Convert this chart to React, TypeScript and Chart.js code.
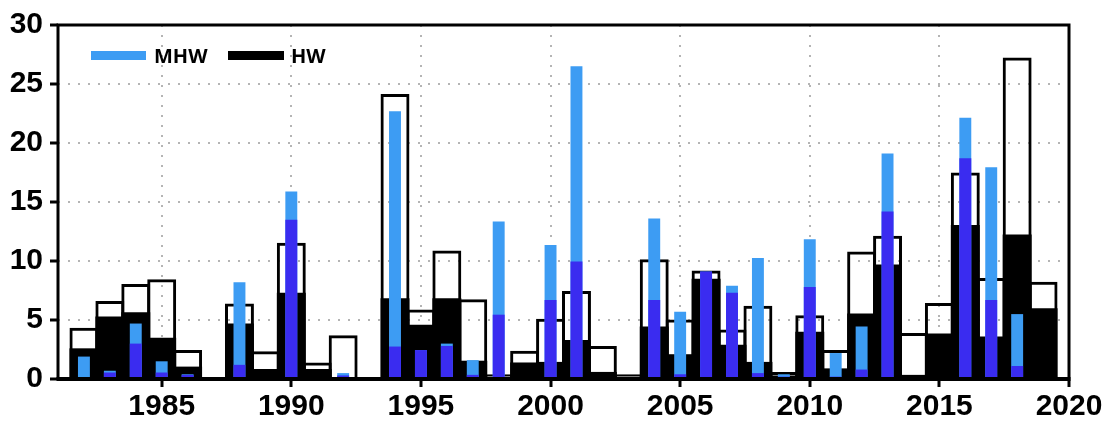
import React, { useEffect, useRef } from "react";
import { Chart, registerables } from "chart.js";

Chart.register(...registerables);

// ---------- data ----------
const years = [
  1982, 1983, 1984, 1985, 1986, 1987, 1988, 1989, 1990, 1991,
  1992, 1993, 1994, 1995, 1996, 1997, 1998, 1999, 2000, 2001,
  2002, 2003, 2004, 2005, 2006, 2007, 2008, 2009, 2010, 2011,
  2012, 2013, 2014, 2015, 2016, 2017, 2018, 2019,
];

// open (outlined) bars
const boxValues = [
  4.35, 6.6, 8.05, 8.45, 2.45, 0, 6.4, 2.35, 11.55, 1.4,
  3.7, 0, 24.15, 5.9, 10.9, 6.75, 0.4, 2.4, 5.1, 7.45,
  2.8, 0.4, 10.15, 5.05, 9.2, 4.2, 6.2, 0.6, 5.4, 2.45,
  10.8, 12.15, 3.9, 6.45, 17.5, 8.55, 27.25, 8.25,
];

// HW (black filled bars)
const hwValues = [
  2.6, 5.3, 5.65, 3.5, 1.05, 0, 4.7, 0.85, 7.3, 0.85,
  0, 0, 6.85, 4.6, 6.85, 1.55, 0.2, 1.4, 1.45, 3.3,
  0.6, 0.2, 4.45, 2.1, 8.5, 2.9, 1.45, 0.3, 4.0, 0.9,
  5.55, 9.7, 0.35, 3.85, 13.05, 3.6, 12.25, 6.0,
];

// MHW (light blue narrow bars)
const mhwValues = [
  1.9, 0.7, 4.7, 1.5, 0.4, 0, 8.2, 0, 15.9, 0,
  0.5, 0, 22.7, 2.45, 3.0, 1.6, 13.35, 0, 11.35, 26.5,
  0, 0, 13.6, 5.7, 9.1, 7.9, 10.25, 0.4, 11.85, 2.2,
  4.45, 19.1, 0, 0, 22.15, 17.95, 5.5, 0.15,
];

// overlap part of MHW (dark blue narrow bars)
const overlapValues = [
  0.1, 0.55, 3.0, 0.55, 0.35, 0, 1.2, 0, 13.5, 0,
  0.3, 0, 2.75, 2.45, 2.8, 0.35, 5.45, 0, 6.7, 9.95,
  0, 0, 6.7, 0.4, 9.1, 7.3, 0.5, 0.2, 7.8, 0.2,
  0.8, 14.2, 0, 0, 18.7, 6.7, 1.1, 0.15,
];

const xTickYears = [1985, 1990, 1995, 2000, 2005, 2010, 2015, 2020];
const yTickValues = [0, 5, 10, 15, 20, 25, 30];
const legendLabels = ["MHW", "HW"];

// ---------- styles ----------
const LIGHT_BLUE = "#3d9cf3";
const DARK_BLUE = "#3a2cf0";
const AXIS_FONT = {
  family: '"Liberation Sans Narrow", "Liberation Sans", Arial, sans-serif',
  size: 30,
  weight: "bold" as const,
};

const toPoints = (vals: number[]) => years.map((x, i) => ({ x, y: vals[i] }));

const framePlugin = {
  id: "frame",
  afterDatasetsDraw(chart: any) {
    const { ctx, chartArea } = chart;
    const { left, right, top, bottom } = chartArea;
    ctx.save();
    ctx.strokeStyle = "#000";
    ctx.lineWidth = 3;
    ctx.beginPath();
    ctx.moveTo(left, bottom);
    ctx.lineTo(left, top);
    ctx.lineTo(right, top);
    ctx.lineTo(right, bottom);
    ctx.stroke();
    ctx.lineWidth = 4;
    ctx.beginPath();
    ctx.moveTo(left - 1.5, bottom);
    ctx.lineTo(right + 1.5, bottom);
    ctx.stroke();
    ctx.restore();
  },
};

const legendPlugin = {
  id: "innerLegend",
  afterDraw(chart: any) {
    const { ctx, chartArea } = chart;
    const x0 = chartArea.left + 33;
    const y0 = chartArea.top + 26;
    ctx.save();
    ctx.font = 'bold 20px "Open Sans", sans-serif';
    ctx.textBaseline = "alphabetic";
    ctx.textAlign = "left";
    ctx.fillStyle = LIGHT_BLUE;
    ctx.fillRect(x0, y0, 55, 9);
    ctx.fillStyle = "#000";
    ctx.fillText(legendLabels[0], x0 + 63, y0 + 12);
    ctx.fillRect(x0 + 137, y0, 56, 9);
    ctx.fillText(legendLabels[1], x0 + 200, y0 + 12);
    ctx.restore();
  },
};

export default function App() {
  const ref = useRef<HTMLCanvasElement>(null);

  useEffect(() => {
    document.body.style.margin = "0";
    const canvas = ref.current;
    if (!canvas) return;
    const wide = 1.116;
    const narrow = 0.46;
    const chart = new Chart(canvas, {
      type: "bar",
      data: {
        datasets: [
          {
            label: "overlap",
            data: toPoints(overlapValues),
            backgroundColor: DARK_BLUE,
            barPercentage: narrow,
            categoryPercentage: 1,
            grouped: false,
            order: 0,
          } as any,
          {
            label: "MHW",
            data: toPoints(mhwValues),
            backgroundColor: LIGHT_BLUE,
            barPercentage: narrow,
            categoryPercentage: 1,
            grouped: false,
            order: 1,
          },
          {
            label: "HW",
            data: toPoints(hwValues),
            backgroundColor: "#000",
            barPercentage: wide,
            categoryPercentage: 1,
            grouped: false,
            order: 2,
          },
          {
            label: "box",
            data: toPoints(boxValues),
            backgroundColor: "rgba(0,0,0,0)",
            borderColor: "#000",
            borderWidth: 3,
            borderSkipped: "start",
            barPercentage: wide,
            categoryPercentage: 1,
            grouped: false,
            order: 3,
          },
        ],
      },
      options: {
        animation: false,
        responsive: false,
        maintainAspectRatio: false,
        layout: { padding: { top: 25, right: 37, left: 0, bottom: 0 } },
        plugins: { legend: { display: false }, tooltip: { enabled: false } },
        scales: {
          x: {
            type: "linear",
            min: 1981,
            max: 2020,
            offset: false,
            afterBuildTicks: (scale: any) => {
              scale.ticks = xTickYears.map((v) => ({ value: v }));
            },
            afterFit: (scale: any) => {
              scale.height = 47;
            },
            grid: {
              offset: false,
              color: "#b4b4b4",
              lineWidth: 2,
              drawTicks: true,
              tickLength: 8,
              tickColor: "#000",
              tickWidth: 3,
              tickBorderDash: [],
            },
            border: { display: false, dash: [2, 8] },
            ticks: {
              autoSkip: false,
              maxRotation: 0,
              padding: 2,
              color: "#000",
              font: AXIS_FONT,
              callback: (v: any) => String(v),
            },
          },
          y: {
            type: "linear",
            min: 0,
            max: 30,
            afterBuildTicks: (scale: any) => {
              scale.ticks = yTickValues.map((v) => ({ value: v }));
            },
            afterFit: (scale: any) => {
              scale.width = 58;
            },
            grid: {
              color: "#b4b4b4",
              lineWidth: 2,
              drawTicks: true,
              tickLength: 8,
              tickColor: "#000",
              tickWidth: 3,
              tickBorderDash: [],
            },
            border: { display: false, dash: [2, 8] },
            ticks: {
              padding: 7,
              color: "#000",
              font: AXIS_FONT,
              callback: (v: any) => String(v),
            },
          },
        },
      },
      plugins: [framePlugin, legendPlugin],
    } as any);
    return () => chart.destroy();
  }, []);

  return (
    <div style={{ width: 1106, height: 426, background: "#fff" }}>
      <canvas ref={ref} width={1106} height={426} style={{ display: "block" }} />
    </div>
  );
}
